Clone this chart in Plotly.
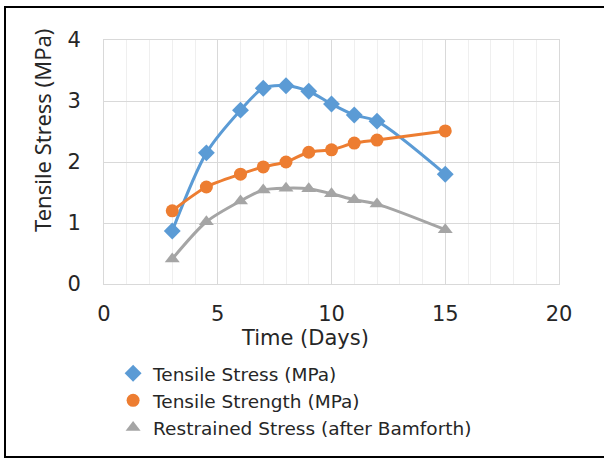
import plotly.graph_objects as go

days = [3, 4.5, 6, 7, 8, 9, 10, 11, 12, 15]
tensile_stress = [0.87, 2.15, 2.85, 3.21, 3.25, 3.16, 2.95, 2.77, 2.67, 1.80]
tensile_strength = [1.20, 1.59, 1.80, 1.92, 2.00, 2.16, 2.20, 2.31, 2.36, 2.51]
restrained_stress = [0.41, 1.02, 1.36, 1.54, 1.57, 1.56, 1.48, 1.38, 1.31, 0.89]

names = ["Tensile Stress (MPa)", "Tensile Strength (MPa)", "Restrained Stress (after Bamforth)"]
colors = ["#5B9BD5", "#ED7D31", "#A5A5A5"]
symbols = ["diamond", "circle", "triangle-up"]

HFONT = "DejaVu Sans"
VFONT = "Noto Sans"
TXT = "#262626"

fig = go.Figure()
for ys, nm, c, s in zip([tensile_stress, tensile_strength, restrained_stress], names, colors, symbols):
    fig.add_trace(go.Scatter(
        x=days, y=ys, name=nm, mode="lines+markers", showlegend=False,
        line=dict(color=c, width=3, shape="spline", smoothing=0.8),
        marker=dict(symbol=s, size=13, color=c),
    ))
# legend entries: markers only, as in the reference
for nm, c, s in zip(names, colors, symbols):
    fig.add_trace(go.Scatter(
        x=[None], y=[None], name=nm, mode="markers", showlegend=True,
        marker=dict(symbol=s, size=13, color=c),
    ))

fig.update_layout(
    width=604, height=459,
    margin=dict(l=104, r=45, t=40, b=175, autoexpand=False),
    paper_bgcolor="white", plot_bgcolor="white",
    font=dict(family=HFONT, size=17, color=TXT),
    showlegend=True,
    legend=dict(x=0.02, y=-0.29, xanchor="left", yanchor="top",
                font=dict(family=HFONT, size=18.5, color=TXT),
                tracegroupgap=0, itemwidth=30, bgcolor="rgba(0,0,0,0)"),
    xaxis=dict(range=[0, 20], dtick=5, tick0=0, showgrid=True, gridcolor="#D9D9D9", gridwidth=1,
               minor=dict(dtick=1, showgrid=True, gridcolor="#EFEFEF", gridwidth=1),
               showline=True, linecolor="#D9D9D9", linewidth=1, mirror=True,
               zeroline=False, ticks="", ticklabelstandoff=11,
               tickfont=dict(family=HFONT, size=21, color=TXT)),
    yaxis=dict(range=[0, 4], dtick=1, tick0=0, showgrid=True, gridcolor="#D9D9D9", gridwidth=1,
               showline=True, linecolor="#D9D9D9", linewidth=1, mirror=True,
               zeroline=False, ticks="", ticklabelstandoff=18,
               tickfont=dict(family=HFONT, size=21, color=TXT)),
    annotations=[
        dict(text="Time (Days)", xref="paper", yref="paper",
             x=(305 - 104) / 455, y=(284 - 338) / 244, xanchor="center", yanchor="middle",
             showarrow=False, font=dict(family=HFONT, size=21, color=TXT)),
        dict(text="Tensile Stress (MPa)", xref="paper", yref="paper", textangle=-90,
             x=(42 - 104) / 455, y=(284 - 131) / 244, xanchor="center", yanchor="middle",
             showarrow=False, font=dict(family=VFONT, size=22, color=TXT)),
    ],
    shapes=[dict(type="rect", xref="paper", yref="paper",
                 x0=(5 - 104) / 455, x1=(620 - 104) / 455,
                 y0=(284 - 457) / 244, y1=(284 - 7) / 244,
                 line=dict(color="black", width=2), layer="below")],
)

fig.write_html("out.html")
